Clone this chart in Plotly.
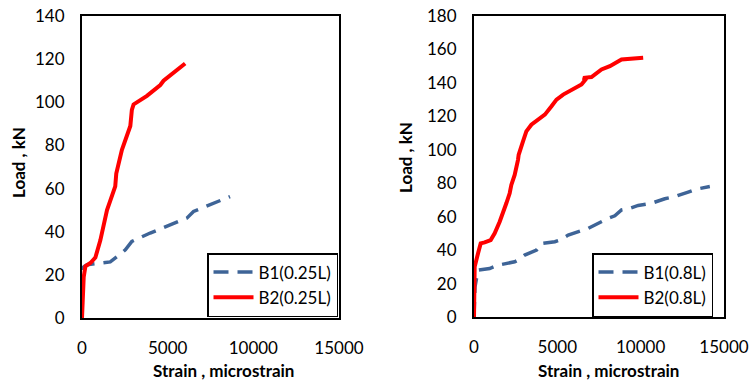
import plotly.graph_objects as go

# Left chart (0.25L)
b1_025_strain = [0, 20, 60, 290, 1650, 2140, 2530, 2910, 3980, 6120, 6510, 8640]
b1_025_load = [0, 12, 23.5, 24.7, 26, 29, 31.6, 35.5, 39.4, 46.3, 49.4, 56.3]
b2_025_strain = [0, 60, 100, 200, 490, 780, 1070, 1460, 1940, 2000, 2330, 2820, 2910, 3010, 3790, 4570, 4760, 6020]
b2_025_load = [0, 10, 19, 24, 25.5, 28, 36, 50, 61, 67, 78, 89, 96.5, 99, 103, 108, 110, 118]

# Right chart (0.8L)
b1_08_strain = [0, 60, 240, 940, 1440, 2440, 2640, 3040, 3750, 4050, 4850, 5150, 5650, 6850, 8050, 8450,
                8850, 9350, 9850, 10650, 11450, 12050, 12850, 13350, 14150]
b1_08_load = [0, 18, 28, 29, 31, 33, 34, 37, 40, 44, 45, 46, 49, 53, 59, 60.5,
              64, 65, 66.7, 68, 70.7, 72, 74.7, 76.5, 78]
b2_08_strain = [0, 40, 240, 400, 640, 1000, 1240, 1540, 1940, 2140, 2240, 2440, 2640, 2680, 2940, 3140,
                3440, 3850, 4250, 4650, 4950, 5350, 5850, 6450, 6690, 6550, 7050, 7250, 7650, 8150, 8450,
                8850, 10150]
b2_08_load = [0, 30, 38, 44, 44.6, 46, 50, 57, 68, 74, 79, 85, 94, 97, 105, 111,
              115, 118, 121, 126, 130, 133, 136, 139, 142, 143, 143.5, 145, 148, 150, 152,
              154, 155]

x_ticks = [0, 5000, 10000, 15000]
x_tick_text = ["0", "5000", "10000", "15000"]
left_y_ticks = [0, 20, 40, 60, 80, 100, 120, 140]
right_y_ticks = [0, 20, 40, 60, 80, 100, 120, 140, 160, 180]

BLUE = "#3E6497"
RED = "#FF0000"
FONT = "Lato, 'Open Sans', sans-serif"
FS = 17

fig = go.Figure()
fig.add_trace(go.Scatter(x=b1_025_strain, y=b1_025_load, mode="lines", name="B1(0.25L)",
                         line=dict(color=BLUE, width=3.5, dash="15px,9px"),
                         xaxis="x", yaxis="y", legend="legend"))
fig.add_trace(go.Scatter(x=b2_025_strain, y=b2_025_load, mode="lines", name="B2(0.25L)",
                         line=dict(color=RED, width=4),
                         xaxis="x", yaxis="y", legend="legend"))
fig.add_trace(go.Scatter(x=b1_08_strain, y=b1_08_load, mode="lines", name="B1(0.8L)",
                         line=dict(color=BLUE, width=3.5, dash="15px,9px"),
                         xaxis="x2", yaxis="y2", legend="legend2"))
fig.add_trace(go.Scatter(x=b2_08_strain, y=b2_08_load, mode="lines", name="B2(0.8L)",
                         line=dict(color=RED, width=4),
                         xaxis="x2", yaxis="y2", legend="legend2"))

axis_common = dict(showgrid=False, zeroline=False, showline=True, mirror=True,
                   linecolor="black", linewidth=2, ticks="", automargin=False,
                   tickfont=dict(family=FONT, size=FS, color="black"))

fig.update_layout(
    width=749, height=383,
    margin=dict(l=0, r=0, t=0, b=0, autoexpand=False),
    paper_bgcolor="white", plot_bgcolor="white",
    font=dict(family=FONT, color="black"),
    xaxis=dict(domain=[82/749, 339/749], range=[0, 15000], tickvals=x_ticks, ticktext=x_tick_text,
               ticklabelstandoff=14, anchor="y", **axis_common),
    yaxis=dict(domain=[65/383, 367/383], range=[0, 140], tickvals=left_y_ticks,
               ticklabelstandoff=12, anchor="x", **axis_common),
    xaxis2=dict(domain=[474/749, 724/749], range=[0, 15000], tickvals=x_ticks, ticktext=x_tick_text,
                ticklabelstandoff=14, anchor="y2", **axis_common),
    yaxis2=dict(domain=[66/383, 367/383], range=[0, 180], tickvals=right_y_ticks,
                ticklabelstandoff=12, anchor="x2", **axis_common),
    legend=dict(x=207/749, y=1 - 253/383, xanchor="left", yanchor="top",
                bgcolor="white", bordercolor="black", borderwidth=1.5,
                font=dict(family=FONT, size=FS, color="black"), itemwidth=40,
                tracegroupgap=0),
    legend2=dict(x=592/749, y=1 - 253/383, xanchor="left", yanchor="top",
                 bgcolor="white", bordercolor="black", borderwidth=1.5,
                 font=dict(family=FONT, size=FS, color="black"), itemwidth=40,
                 tracegroupgap=0),
    showlegend=True,
    annotations=[
        dict(text="<b>Strain , microstrain</b>", x=224/749, y=1 - 370/383, xref="paper", yref="paper",
             xanchor="center", yanchor="middle",
             showarrow=False, font=dict(family=FONT, size=FS, color="black")),
        dict(text="<b>Strain , microstrain</b>", x=608/749, y=1 - 370/383, xref="paper", yref="paper",
             xanchor="center", yanchor="middle",
             showarrow=False, font=dict(family=FONT, size=FS, color="black")),
        dict(text="<b>Load , kN</b>", x=18/749, y=1 - 163/383, xref="paper", yref="paper",
             xanchor="center", yanchor="middle",
             showarrow=False, textangle=-90, font=dict(family=FONT, size=FS, color="black")),
        dict(text="<b>Load , kN</b>", x=406/749, y=1 - 157/383, xref="paper", yref="paper",
             xanchor="center", yanchor="middle",
             showarrow=False, textangle=-90, font=dict(family=FONT, size=FS, color="black")),
    ],
)

fig.write_html("out.html", config={"displayModeBar": False},
               post_script="document.body.style.margin='0';document.body.style.padding='0';")
